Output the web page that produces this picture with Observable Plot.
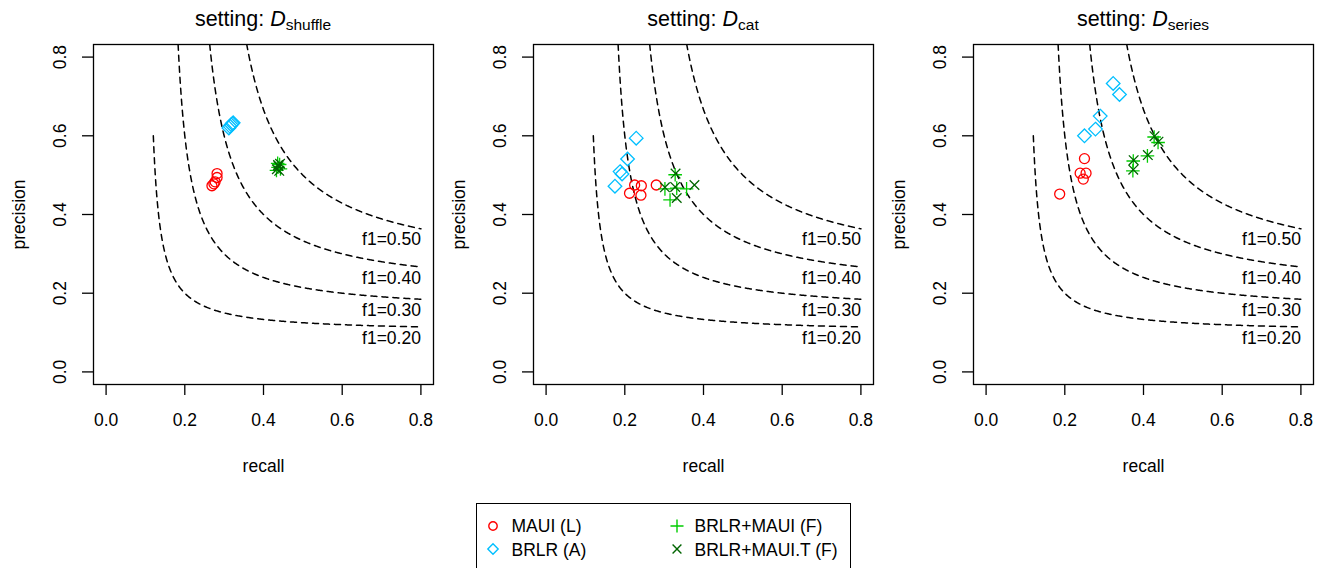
<!DOCTYPE html>
<html>
<head>
<meta charset="utf-8">
<script src="https://cdn.jsdelivr.net/npm/d3@7"></script>
<script src="https://cdn.jsdelivr.net/npm/@observablehq/plot@0.6"></script>
<style>
  html, body { margin: 0; padding: 0; background: #fff; }
  body { width: 1318px; height: 568px; overflow: hidden; position: relative;
         font-family: "Liberation Sans", Arial, Helvetica, sans-serif; color: #000; }
  .panel { position: absolute; top: 0; }
  .title { position: absolute; top: 8.5px; font-size: 21.5px; line-height: 1; text-align: center; white-space: nowrap; }
  .title sub { font-size: 15.5px; vertical-align: baseline; position: relative; top: 4px; }
  .legend { position: absolute; left: 476px; top: 503px; width: 375px; height: 90px;
            border: 1.3px solid #000; box-sizing: border-box; }
  .lt { position: absolute; font-size: 17.5px; line-height: 1; white-space: nowrap; }
  .li { position: absolute; }
</style>
</head>
<body>
<script>
// ---------------- data ----------------
const settingNames = ["shuffle", "cat", "series"];
const xTicks = [0.0, 0.2, 0.4, 0.6, 0.8];
const yTicks = [0.0, 0.2, 0.4, 0.6, 0.8];
const f1Levels = [0.2, 0.3, 0.4, 0.5];
const f1Labels = ["f1=0.20", "f1=0.30", "f1=0.40", "f1=0.50"];
const methodNames = ["MAUI (L)", "BRLR (A)", "BRLR+MAUI (F)", "BRLR+MAUI.T (F)"];

// [recall, precision]
const mauiShuffle = [[0.269,0.473],[0.274,0.478],[0.277,0.483],[0.282,0.494],[0.282,0.504]];
const brlrShuffle = [[0.312,0.620],[0.315,0.624],[0.318,0.628],[0.321,0.631],[0.323,0.633]];
const fusedShuffle = [[0.433,0.512],[0.437,0.520],[0.441,0.527],[0.443,0.516],[0.436,0.530]];
const fusedTShuffle = [[0.434,0.515],[0.438,0.523],[0.442,0.529],[0.440,0.511],[0.437,0.526]];

const mauiCat = [[0.225,0.475],[0.242,0.473],[0.212,0.454],[0.241,0.449],[0.280,0.475]];
const brlrCat = [[0.229,0.594],[0.207,0.541],[0.188,0.509],[0.193,0.503],[0.175,0.472]];
const fusedCat = [[0.328,0.501],[0.302,0.465],[0.332,0.467],[0.357,0.465],[0.315,0.437]];
const fusedTCat = [[0.329,0.504],[0.302,0.469],[0.328,0.470],[0.377,0.475],[0.332,0.442]];

const mauiSeries = [[0.250,0.542],[0.239,0.505],[0.254,0.505],[0.247,0.490],[0.187,0.452]];
const brlrSeries = [[0.323,0.733],[0.339,0.705],[0.290,0.650],[0.278,0.617],[0.250,0.600]];
const fusedSeries = [[0.427,0.597],[0.437,0.583],[0.410,0.549],[0.374,0.536],[0.373,0.511]];
const fusedTSeries = [[0.428,0.599],[0.438,0.585],[0.411,0.551],[0.375,0.538],[0.374,0.514]];

const panelData = [
  [mauiShuffle, brlrShuffle, fusedShuffle, fusedTShuffle],
  [mauiCat, brlrCat, fusedCat, fusedTCat],
  [mauiSeries, brlrSeries, fusedSeries, fusedTSeries]
];

// ---------------- styles ----------------
const colors = ["#ff0000", "#00bfff", "#00cd00", "#006400"];
const FONT = "'Liberation Sans', Arial, Helvetica, sans-serif";
const FS = 17.5;

// custom stroke symbols (R pch 1, 5, 3, 4)
const symCircle = {draw(c, s) { const R = Math.sqrt(s / Math.PI); c.moveTo(R, 0); c.arc(0, 0, R, 0, 2 * Math.PI); c.closePath(); }};
const symDiamond = {draw(c, s) { const R = Math.sqrt(s / Math.PI) * 1.36; c.moveTo(0, -R); c.lineTo(R, 0); c.lineTo(0, R); c.lineTo(-R, 0); c.closePath(); }};
const symPlus = {draw(c, s) { const R = Math.sqrt(s / Math.PI) * 1.36; c.moveTo(-R, 0); c.lineTo(R, 0); c.moveTo(0, -R); c.lineTo(0, R); }};
const symTimes = {draw(c, s) { const R = Math.sqrt(s / Math.PI) * 0.96; c.moveTo(-R, -R); c.lineTo(R, R); c.moveTo(-R, R); c.lineTo(R, -R); }};
const symbols = [symCircle, symDiamond, symPlus, symTimes];

// iso-F1 contour lines: precision = f*r / (2r - f)
const curves = f1Levels.flatMap((f, i) => {
  const r0 = Math.max(0.12, f / (2 - f));
  const n = 400;
  return d3.range(n + 1).map(k => {
    const r = r0 + (0.8 - r0) * k / n;
    return {f: f1Labels[i], r, p: f * r / (2 * r - f)};
  });
});
const curveEnds = f1Levels.map((f, i) => ({text: f1Labels[i], r: 0.8, p: f * 0.8 / (1.6 - f)}));

const panelLefts = [0, 440, 880];
const panelWidths = [440, 440, 438];

settingNames.forEach((name, i) => {
  const W = panelWidths[i];
  const H = 500;
  const marks = [
    Plot.line(curves, {x: "r", y: "p", z: "f", stroke: "black", strokeWidth: 1.5, strokeDasharray: "6,5", clip: true}),
    Plot.text(curveEnds, {x: "r", y: "p", text: "text", textAnchor: "end", lineAnchor: "middle", dy: 11, fontSize: FS}),
    Plot.axisX({ticks: xTicks, tickSize: 11, tickPadding: 18, tickFormat: d => d.toFixed(1), fontSize: FS, label: null, strokeWidth: 1.3}),
    Plot.axisY({ticks: yTicks, tickSize: 11, tickFormat: () => "", label: null, strokeWidth: 1.3}),
    Plot.text(yTicks, {y: d => d, frameAnchor: "left", dx: -33, rotate: -90, text: d => d.toFixed(1), textAnchor: "middle", lineAnchor: "middle", fontSize: FS}),
    Plot.text(["recall"], {frameAnchor: "bottom", dy: 82, text: d => d, lineAnchor: "middle", fontSize: FS}),
    Plot.text(["precision"], {frameAnchor: "left", dx: -74, rotate: -90, text: d => d, textAnchor: "middle", lineAnchor: "middle", fontSize: FS}),
    Plot.frame({stroke: "black", strokeWidth: 1.3})
  ];
  panelData[i].forEach((pts, m) => {
    marks.push(Plot.dot(pts, {x: d => d[0], y: d => d[1], symbol: symbols[m], r: 5, stroke: colors[m], fill: "none", strokeWidth: 1.3}));
  });
  const chart = Plot.plot({
    width: W, height: H,
    marginLeft: 93, marginRight: W - 433, marginTop: 44, marginBottom: H - 384,
    x: {domain: [-0.032, 0.832]},
    y: {domain: [-0.032, 0.832]},
    style: {fontFamily: FONT, fontSize: FS + "px", background: "transparent", color: "black", overflow: "visible"},
    marks
  });
  const wrap = document.createElement("div");
  wrap.className = "panel";
  wrap.style.left = panelLefts[i] + "px";
  wrap.style.width = W + "px";
  wrap.appendChild(chart);
  document.body.appendChild(wrap);

  const t = document.createElement("div");
  t.className = "title";
  t.style.left = (panelLefts[i] + 93) + "px";
  t.style.width = "340px";
  t.innerHTML = `setting: <i>D</i><sub>${name}</sub>`;
  document.body.appendChild(t);
});

// ---------------- legend ----------------
const legend = document.createElement("div");
legend.className = "legend";
document.body.appendChild(legend);
const legendPos = [
  {sx: 493.3, sy: 525.5, tx: 511.5, ty: 518},
  {sx: 493.3, sy: 549.3, tx: 511.5, ty: 542},
  {sx: 676.7, sy: 525.5, tx: 694.5, ty: 518},
  {sx: 676.7, sy: 549.3, tx: 694.5, ty: 542}
];
const legendR = [4.2, 3.8, 4.8, 4.6];
methodNames.forEach((nm, m) => {
  const p = legendPos[m];
  const svg = d3.create("svg").attr("class", "li").attr("width", 20).attr("height", 20)
    .style("left", (p.sx - 10) + "px").style("top", (p.sy - 10) + "px");
  const path = d3.path();
  symbols[m].draw(path, Math.PI * legendR[m] * legendR[m]);
  svg.append("path").attr("transform", "translate(10,10)").attr("d", path.toString())
    .attr("fill", "none").attr("stroke", colors[m]).attr("stroke-width", 1.4);
  document.body.appendChild(svg.node());
  const t = document.createElement("div");
  t.className = "lt";
  t.style.left = p.tx + "px";
  t.style.top = p.ty + "px";
  t.textContent = nm;
  document.body.appendChild(t);
});
</script>
</body>
</html>
